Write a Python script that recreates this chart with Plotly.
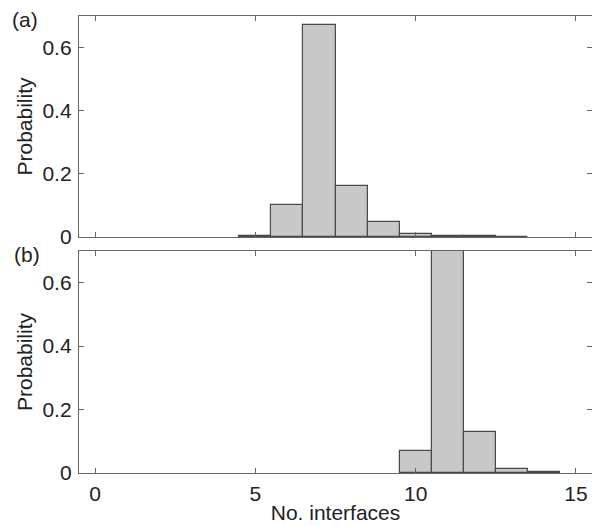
import plotly.graph_objects as go
from plotly.subplots import make_subplots

# Data (None = empty bin)
bins = [5, 6, 7, 8, 9, 10, 11, 12, 13, 14]
prob_a = [0.002, 0.101, 0.671, 0.161, 0.047, 0.009, 0.003, 0.002, 0.001, None]
prob_b = [None, None, None, None, None, 0.069, 0.788, 0.129, 0.012, 0.002]
x_ticks = [0, 5, 10, 15]
y_ticks = [0, 0.2, 0.4, 0.6]

W, H = 592, 526
ml, mr, mt, mb = 79, 0, 16, 53
ph = H - mt - mb
top_lo = (H - mb - 237) / ph
bot_hi = (H - mb - 251) / ph

fig = make_subplots(rows=2, cols=1, shared_xaxes=False)

bar_style = dict(width=1, marker=dict(color="#c8c8c8", line=dict(color="#4a4a4a", width=1.2)),
                 showlegend=False, hoverinfo="x+y")
fig.add_trace(go.Bar(x=bins, y=prob_a, **bar_style), row=1, col=1)
fig.add_trace(go.Bar(x=bins, y=prob_b, **bar_style), row=2, col=1)

font = dict(family="Liberation Sans, Arial, sans-serif", size=21, color="#222")
ax_common = dict(range=[-0.5, 15.5], tickvals=x_ticks, ticks="inside", ticklen=5,
                 tickcolor="#666", showline=True, linecolor="#666", linewidth=1.3,
                 mirror="ticks", showgrid=False, zeroline=False, tickfont=font,
                 automargin=False)
ay_common = dict(range=[0, 0.7], tickvals=y_ticks, ticks="inside", ticklen=5,
                 tickcolor="#666", showline=True, linecolor="#666", linewidth=1.3,
                 mirror="ticks", showgrid=False, zeroline=False, tickfont=font,
                 ticklabelstandoff=2, automargin=False)

fig.update_layout(
    width=W, height=H, margin=dict(l=ml, r=mr, t=mt, b=mb),
    paper_bgcolor="white", plot_bgcolor="white", bargap=0, font=font,
    xaxis=dict(**ax_common, domain=[0, 1], showticklabels=False, anchor="y"),
    yaxis=dict(**ay_common, domain=[top_lo, 1],
               title=dict(text="Probability", font=font, standoff=4)),
    xaxis2=dict(**ax_common, domain=[0, 1], anchor="y2", ticklabelstandoff=2,
                title=dict(text="No. interfaces", font=font, standoff=0)),
    yaxis2=dict(**ay_common, domain=[0, bot_hi],
                title=dict(text="Probability", font=font, standoff=4)),
)

fig.add_annotation(text="(a)", xref="paper", yref="paper", x=(25 - ml) / (W - ml - mr),
                   y=(H - mb - 19) / ph, showarrow=False, font=font, xanchor="center", yanchor="middle")
fig.add_annotation(text="(b)", xref="paper", yref="paper", x=(27 - ml) / (W - ml - mr),
                   y=(H - mb - 254) / ph, showarrow=False, font=font, xanchor="center", yanchor="middle")

fig.write_html("out.html", config={"displayModeBar": False},
               post_script="document.body.style.margin='0';document.body.style.overflow='hidden';")
